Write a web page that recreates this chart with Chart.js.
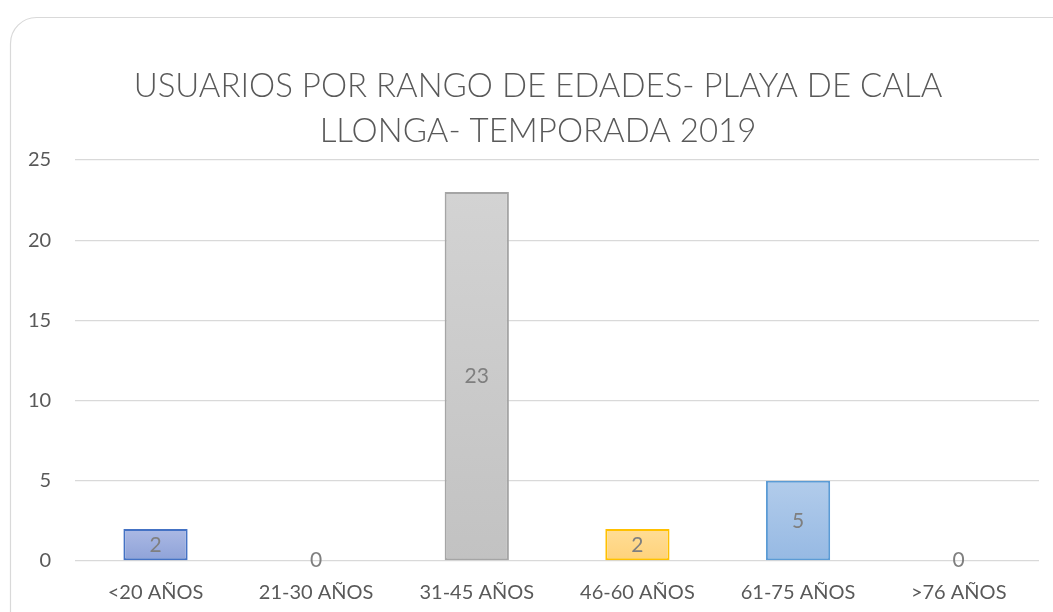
<!DOCTYPE html>
<html>
<head>
<meta charset="utf-8">
<script src="https://cdn.jsdelivr.net/npm/chart.js@4"></script>
<style>
  html, body { margin: 0; padding: 0; background: #fff; }
  #wrap { position: relative; width: 1053px; height: 612px; }
</style>
</head>
<body>
<div id="wrap"><canvas id="chart" width="1053" height="612"></canvas></div>
<script>
// ---------- Data ----------
const categories = ['<20 AÑOS', '21-30 AÑOS', '31-45 AÑOS', '46-60 AÑOS', '61-75 AÑOS', '>76 AÑOS'];
const usuarios = [2, 0, 23, 2, 5, 0];
const titleLines = ['USUARIOS POR RANGO DE EDADES- PLAYA DE CALA', 'LLONGA- TEMPORADA 2019'];

// Office palette: border colour, gradient top, gradient bottom
const borderColors = ['#4472c4', '#ed7d31', '#a5a5a5', '#ffc000', '#5b9bd5', '#70ad47'];
const fillTop = ['#abb9e4', '#f8c3a0', '#d3d3d3', '#ffdd96', '#b2cceb', '#b7d8a2'];
const fillBottom = ['#8ea2d8', '#f4ad7d', '#c2c2c2', '#ffd27a', '#96b9e3', '#a2cd85'];

const FONT = 'Lato, "Open Sans", sans-serif';

// ---------- Plugins ----------
// rounded chart frame + title centred on the frame (not the plot area)
const frame = {
    id: 'frame',
    beforeDraw(chart) {
        const ctx = chart.ctx;
        ctx.save();
        ctx.strokeStyle = '#d9d9d9';
        ctx.lineWidth = 1.2;
        ctx.beginPath();
        ctx.roundRect(10.5, 17.5, 1080, 640, 26);
        ctx.stroke();

        ctx.font = '300 33px ' + FONT;
        ctx.fillStyle = '#595959';
        ctx.textAlign = 'center';
        ctx.textBaseline = 'middle';
        titleLines.forEach((line, i) => {
            ctx.fillText(line, 538, 86 + i * 45);
        });
        ctx.restore();
    }
};

const barLabels = {
    id: 'barLabels',
    afterDatasetsDraw(chart) {
        const ctx = chart.ctx;
        const meta = chart.getDatasetMeta(0);
        const base = chart.scales.y.getPixelForValue(0);
        ctx.save();
        ctx.font = '21px ' + FONT;
        ctx.fillStyle = '#7f7f7f';
        ctx.textAlign = 'center';
        ctx.textBaseline = 'middle';
        meta.data.forEach((bar, i) => {
            const v = usuarios[i];
            const y = v === 0 ? base - 1 : (bar.y + base) / 2;
            ctx.fillText(String(v), bar.x, y);
        });
        ctx.restore();
    }
};

// ---------- Chart ----------
function barFill(context) {
    const chart = context.chart;
    const i = context.dataIndex;
    const y = chart.scales.y;
    if (!chart.chartArea || !y) return fillBottom[i];
    const top = y.getPixelForValue(usuarios[i]);
    const bottom = y.getPixelForValue(0);
    if (!isFinite(top) || !isFinite(bottom) || bottom - top < 1) return fillBottom[i];
    const g = chart.ctx.createLinearGradient(0, top, 0, bottom);
    g.addColorStop(0, fillTop[i]);
    g.addColorStop(1, fillBottom[i]);
    return g;
}

new Chart(document.getElementById('chart'), {
    type: 'bar',
    data: {
        labels: categories,
        datasets: [{
            data: usuarios,
            backgroundColor: barFill,
            borderColor: borderColors,
            borderWidth: 2,
            borderSkipped: false,
            categoryPercentage: 1,
            barPercentage: 0.4
        }]
    },
    options: {
        responsive: false,
        animation: false,
        layout: { padding: { left: 4, right: 14, top: 160, bottom: -5 } },
        plugins: {
            legend: { display: false },
            tooltip: { enabled: false },
            title: { display: false }
        },
        scales: {
            x: {
                grid: { display: false },
                border: { display: false },
                ticks: { color: '#595959', font: { family: FONT, size: 20 }, padding: 12 }
            },
            y: {
                min: 0,
                max: 25,
                ticks: { stepSize: 5, color: '#595959', font: { family: FONT, size: 20 }, padding: 24 },
                grid: { color: '#d9d9d9', lineWidth: 1.3, drawTicks: false },
                border: { display: false }
            }
        }
    },
    plugins: [frame, barLabels]
});
</script>
</body>
</html>
